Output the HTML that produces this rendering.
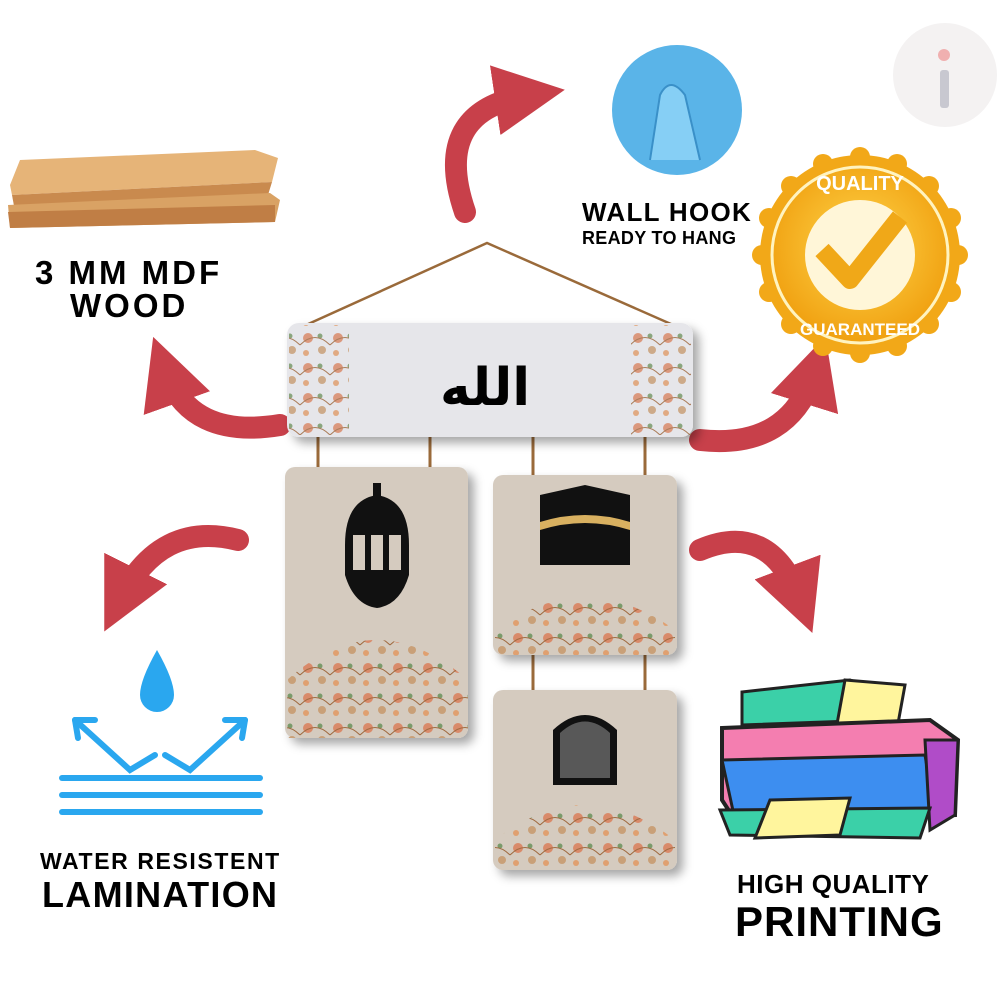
<!DOCTYPE html>
<html><head><meta charset="utf-8"><style>
body{margin:0;background:#fff;width:1000px;height:1000px;overflow:hidden;font-family:"Liberation Sans",sans-serif}
.t{position:absolute;font-weight:bold;color:#000;white-space:nowrap}
</style></head><body>
<svg width="1000" height="1000" style="position:absolute;left:0;top:0">
<defs>
<filter id="sh" x="-10%" y="-10%" width="130%" height="130%"><feDropShadow dx="6" dy="6" stdDeviation="5" flood-opacity="0.35"/></filter>
<radialGradient id="gold" cx="50%" cy="45%" r="55%"><stop offset="0" stop-color="#ffd54a"/><stop offset="1" stop-color="#f0a010"/></radialGradient>
<marker id="ah" viewBox="0 0 10 10" refX="5" refY="5" markerWidth="3.2" markerHeight="3.2" orient="auto"><path d="M0,0L10,5L0,10z" fill="#c8404a"/></marker>
<pattern id="fl" width="30" height="30" patternUnits="userSpaceOnUse"><circle cx="8" cy="8" r="5" fill="#d98a6a"/><circle cx="22" cy="20" r="4" fill="#c9a078"/><circle cx="20" cy="6" r="2.5" fill="#7a9a6a"/><circle cx="6" cy="23" r="3" fill="#e0a070"/><path d="M0 15Q15 0 30 15" stroke="#a06a40" fill="none" stroke-width="1"/></pattern>
</defs>
<circle cx="945" cy="75" r="52" fill="#f4f2f2"/>
<rect x="940" y="70" width="9" height="38" rx="3" fill="#c8c8d0"/>
<circle cx="944" cy="55" r="6" fill="#f0b0b0"/>
<!-- wood -->
<path d="M10 185L20 160L255 150L278 158L272 182L12 195Z" fill="#e6b478"/>
<path d="M12 195L272 182L268 195L14 206Z" fill="#c98a4e"/>
<path d="M8 205L270 193L280 200L275 222L10 228Z" fill="#d9a264"/>
<path d="M8 212L275 205L275 222L10 228Z" fill="#c07e45"/>
<g fill="none" stroke="#c8404a" stroke-width="22" stroke-linecap="round">
<path d="M465 212Q430 110 530 95" marker-end="url(#ah)"/>
<path d="M280 425Q190 440 165 370" marker-end="url(#ah)"/>
<path d="M700 440Q790 450 815 370" marker-end="url(#ah)"/>
<path d="M238 540Q160 520 120 600" marker-end="url(#ah)"/>
<path d="M700 550Q770 520 800 600" marker-end="url(#ah)"/>
</g>
<circle cx="677" cy="110" r="65" fill="#5ab4e8"/>
<path d="M650 160L660 95Q670 75 685 95L700 160" fill="#86cff5" stroke="#3a90c8" stroke-width="2"/>
<g transform="translate(860,255)">
<circle r="100" fill="#f2a818"/>
<g fill="#f2a818"><circle r="10" cx="0" cy="-98"/><circle r="10" cx="69" cy="-69"/><circle r="10" cx="98" cy="0"/><circle r="10" cx="69" cy="69"/><circle r="10" cx="0" cy="98"/><circle r="10" cx="-69" cy="69"/><circle r="10" cx="-98" cy="0"/><circle r="10" cx="-69" cy="-69"/><circle r="10" cx="37" cy="-91"/><circle r="10" cx="91" cy="-37"/><circle r="10" cx="91" cy="37"/><circle r="10" cx="37" cy="91"/><circle r="10" cx="-37" cy="91"/><circle r="10" cx="-91" cy="37"/><circle r="10" cx="-91" cy="-37"/><circle r="10" cx="-37" cy="-91"/></g>
<circle r="88" fill="url(#gold)" stroke="#fff3c0" stroke-width="3"/>
<circle r="55" fill="#fff6d8"/>
<path d="M-38 -5L-10 25L40 -38" stroke="#f0a818" stroke-width="18" fill="none" stroke-linejoin="round"/>
<text x="0" y="-65" text-anchor="middle" font-size="20" font-weight="bold" fill="#fff" font-family="Liberation Sans">QUALITY</text>
<text x="0" y="80" text-anchor="middle" font-size="17" font-weight="bold" fill="#fff" font-family="Liberation Sans">GUARANTEED</text>
</g>
<path d="M295 330L487 243L680 328" stroke="#9a6a3a" stroke-width="2.5" fill="none"/>
<g stroke="#9a6a3a" stroke-width="3"><line x1="318" y1="430" x2="318" y2="475"/><line x1="430" y1="425" x2="430" y2="470"/><line x1="533" y1="425" x2="533" y2="480"/><line x1="645" y1="425" x2="645" y2="480"/><line x1="533" y1="650" x2="533" y2="695"/><line x1="645" y1="650" x2="645" y2="695"/></g>
<g filter="url(#sh)">
<rect x="287" y="323" width="406" height="114" rx="12" fill="#e6e6ea"/>
<rect x="285" y="467" width="183" height="271" rx="10" fill="#d5cbbf"/>
<rect x="493" y="475" width="184" height="180" rx="10" fill="#d5cbbf"/>
<rect x="493" y="690" width="184" height="180" rx="10" fill="#d5cbbf"/>
</g>
<rect x="289" y="325" width="60" height="110" fill="url(#fl)" opacity="0.85"/>
<rect x="631" y="325" width="60" height="110" fill="url(#fl)" opacity="0.85"/>
<path d="M287 738L287 680Q376 600 468 680L468 738Z" fill="url(#fl)"/>
<path d="M495 655L495 630Q585 565 675 630L675 655Z" fill="url(#fl)"/>
<path d="M495 868L495 840Q585 770 675 840L675 868Z" fill="url(#fl)"/>
<text x="485" y="405" text-anchor="middle" font-size="52" font-family="DejaVu Sans" font-weight="bold">الله</text>
<path d="M345 545Q345 500 377 495Q409 500 409 545L409 575Q400 605 377 608Q354 605 345 575Z" fill="#111"/>
<rect x="373" y="483" width="8" height="14" fill="#111"/>
<g fill="#d5cbbf"><rect x="353" y="535" width="12" height="35"/><rect x="371" y="535" width="12" height="35"/><rect x="389" y="535" width="12" height="35"/></g>
<path d="M540 495L585 485L630 495L630 565L540 565Z" fill="#111"/>
<path d="M540 522Q585 508 630 522L630 530Q585 516 540 530Z" fill="#d8b060"/>
<path d="M553 785L553 730Q585 700 617 730L617 785Z" fill="#111"/>
<path d="M560 778L560 733Q585 710 610 733L610 778Z" fill="#888" opacity="0.6"/>
<path d="M157 650Q140 680 140 695A17 17 0 0 0 174 695Q174 680 157 650Z" fill="#2aa7ef"/>
<g stroke="#2aa7ef" stroke-width="6" fill="none" stroke-linecap="round">
<path d="M75 720L130 770L155 755"/><path d="M75 720L95 720M75 720L78 738"/>
<path d="M245 720L190 770L165 755"/><path d="M245 720L225 720M245 720L242 738"/>
<line x1="62" y1="778" x2="260" y2="778"/><line x1="62" y1="795" x2="260" y2="795"/><line x1="62" y1="812" x2="260" y2="812"/>
</g>
<path d="M742 692L850 680L880 690L880 720L742 725Z" fill="#3bd0a8" stroke="#222" stroke-width="3"/>
<path d="M845 680L905 685L895 740L835 735Z" fill="#fff59d" stroke="#222" stroke-width="3"/>
<path d="M722 728L930 720L958 740L955 815L735 820L722 800Z" fill="#f47eb0" stroke="#222" stroke-width="4"/>
<path d="M722 760L925 755L935 815L735 820Z" fill="#3d8ef0" stroke="#222" stroke-width="3"/>
<path d="M925 740L958 740L955 815L930 830Z" fill="#b04cc8" stroke="#222" stroke-width="3"/>
<path d="M720 810L930 808L920 838L730 835Z" fill="#3bd0a8" stroke="#222" stroke-width="3"/>
<path d="M770 800L850 798L840 835L755 838Z" fill="#fff59d" stroke="#222" stroke-width="3"/>
</svg>
<div class="t" style="left:35px;top:254px;font-size:33px;letter-spacing:3px">3 MM MDF</div>
<div class="t" style="left:70px;top:287px;font-size:33px;letter-spacing:3px">WOOD</div>
<div class="t" style="left:582px;top:197px;font-size:26px;letter-spacing:1.3px">WALL HOOK</div>
<div class="t" style="left:582px;top:228px;font-size:18px;letter-spacing:0.3px">READY TO HANG</div>
<div class="t" style="left:40px;top:848px;font-size:23px;letter-spacing:1.6px">WATER RESISTENT</div>
<div class="t" style="left:42px;top:874px;font-size:36px;letter-spacing:1.3px">LAMINATION</div>
<div class="t" style="left:737px;top:869px;font-size:26px;letter-spacing:0.5px">HIGH QUALITY</div>
<div class="t" style="left:735px;top:898px;font-size:42px;letter-spacing:1px">PRINTING</div>
</body></html>
